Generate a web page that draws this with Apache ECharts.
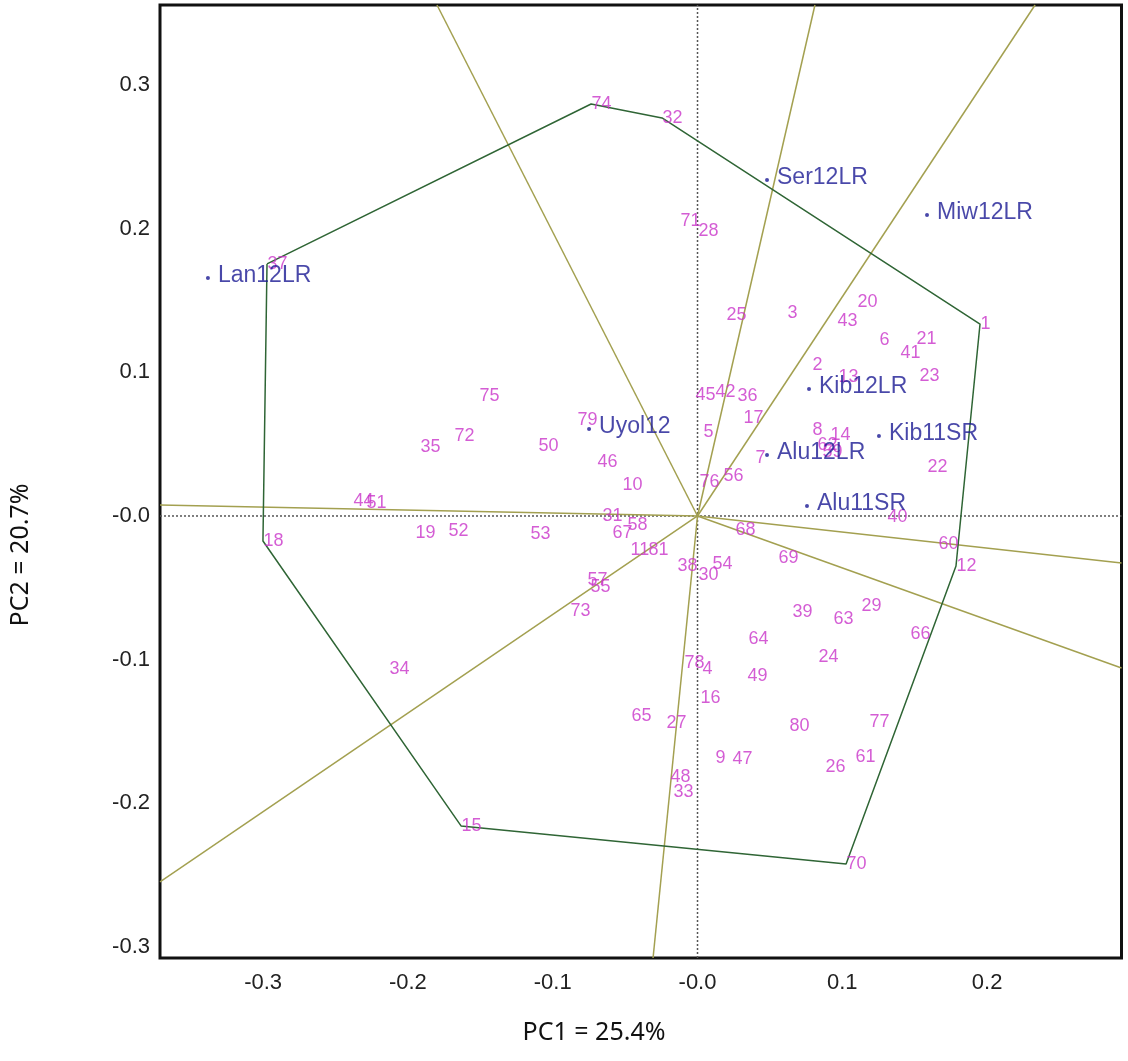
<!DOCTYPE html>
<html>
<head>
<meta charset="utf-8">
<script src="https://cdn.jsdelivr.net/npm/echarts@6/dist/echarts.min.js"></script>
<style>
html,body{margin:0;padding:0;background:#fff;}
#chart{width:1128px;height:1061px;}
</style>
</head>
<body>
<div id="chart"></div>
<script>
// Genotype labels (PC1, PC2)
const genoIds = ['1','2','3','4','5','6','7','8','9','10','11','12','13','14','15','16','17','18','19','20',
  '21','22','23','24','25','26','27','28','29','30','31','32','33','34','35','36','37','38','39','40',
  '41','42','43','44','45','46','47','48','49','50','51','52','53','54','55','56','57','58','59','60',
  '61','62','63','64','65','66','67','68','69','70','71','72','73','74','75','76','77','78','79','80','81'];
const genoPC1 = [0.1951,0.0791,0.0618,0.0031,0.0038,0.1253,0.0397,0.0791,0.0121,-0.0521,
  -0.0466,0.1785,0.0970,0.0915,-0.1633,0.0017,0.0314,-0.3001,-0.1951,0.1102,
  0.1509,0.1585,0.1530,0.0832,0.0197,0.0881,-0.0218,0.0003,0.1129,0.0003,
  -0.0660,-0.0245,-0.0169,-0.2131,-0.1916,0.0273,-0.2973,-0.0142,0.0653,0.1309,
  0.1398,0.0121,0.0963,-0.2379,-0.0017,-0.0694,0.0238,-0.0190,0.0342,-0.1102,
  -0.2289,-0.1723,-0.1157,0.0100,-0.0742,0.0176,-0.0763,-0.0487,0.0860,0.1661,
  0.1088,0.0825,0.0936,0.0349,-0.0459,0.1468,-0.0590,0.0259,0.0556,0.1026,
  -0.0121,-0.1682,-0.0881,-0.0735,-0.1509,0.0010,0.1184,-0.0093,-0.0832,0.0632,-0.0342];
const genoPC2 = [0.1336,0.1051,0.1413,-0.1065,0.0585,0.1225,0.0404,0.0598,-0.1684,0.0216,
  -0.0237,-0.0348,0.0967,0.0564,-0.2157,-0.1267,0.0682,-0.0174,-0.0118,0.1489,
  0.1232,0.0341,0.0974,-0.0981,0.1399,-0.1747,-0.1441,0.1983,-0.0626,-0.0411,
  0.0000,0.2770,-0.1921,-0.1065,0.0480,0.0835,0.1754,-0.0348,-0.0668,-0.0007,
  0.1134,0.0863,0.1357,0.0104,0.0842,0.0376,-0.1691,-0.1816,-0.1113,0.0487,
  0.0090,-0.0104,-0.0125,-0.0334,-0.0494,0.0278,-0.0445,-0.0063,0.0445,-0.0195,
  -0.1677,0.0494,-0.0717,-0.0856,-0.1392,-0.0821,-0.0118,-0.0097,-0.0292,-0.2422,
  0.2053,0.0557,-0.0661,0.2867,0.0835,0.0237,-0.1434,-0.1023,0.0668,-0.1461,-0.0237];

// Environments
const envNames = ['Lan12LR','Ser12LR','Miw12LR','Kib12LR','Kib11SR','Alu12LR','Alu11SR','Uyol12'];
const envPC1 = [-0.3381,0.0480,0.1585,0.0770,0.1253,0.0480,0.0756,-0.0749];
const envPC2 = [0.1656,0.2338,0.2095,0.0884,0.0557,0.0424,0.0070,0.0605];

// Polygon vertices (genotype ids, in order)
const hullIds = ['37','74','32','1','12','70','15','18'];

// Rays from origin: end points at the frame
const rayEndPC1 = [-0.1799,0.0811,0.2331,0.2928,0.2928,-0.0307,-0.3712,-0.3712];
const rayEndPC2 = [0.3556,0.3556,0.3556,-0.0327,-0.1058,-0.3076,-0.2547,0.0077];

const xTicks = [-0.3,-0.2,-0.1,0.0,0.1,0.2];
const yTicks = [-0.3,-0.2,-0.1,0.0,0.1,0.2,0.3];
const xRange = [-0.3712, 0.2928];
const yRange = [-0.3076, 0.3556];
const xTitle = 'PC1 = 25.4%';
const yTitle = 'PC2 = 20.7%';

const chart = echarts.init(document.getElementById('chart'), null, {renderer:'canvas'});

const fmt = v => (Math.abs(v) < 1e-9 ? '-0.0' : v.toFixed(1));
const FONT = "'Liberation Sans', Arial, sans-serif";
const MAG = '#c935c9';
const BLUE = '#1c1a94';
const RAY = '#a3a050';
const POLY = '#2f6535';

const series = [];
// axes through origin (dotted)
series.push({type:'line', data:[[0,yRange[0]],[0,yRange[1]]], symbol:'none', silent:true,
  lineStyle:{color:'#555', width:1.5, type:[2,2]}, z:1});
series.push({type:'line', data:[[xRange[0],0],[xRange[1],0]], symbol:'none', silent:true,
  lineStyle:{color:'#555', width:1.5, type:[2,2]}, z:1});
// rays
rayEndPC1.forEach((x,i)=>{
  series.push({type:'line', data:[[0,0],[x,rayEndPC2[i]]], symbol:'none', silent:true,
    lineStyle:{color:RAY, width:1.5}, z:2});
});
// polygon
const hullData = hullIds.concat([hullIds[0]]).map(id=>{
  const k = genoIds.indexOf(id);
  return [genoPC1[k], genoPC2[k]];
});
series.push({type:'line', data:hullData, symbol:'none', silent:true,
  lineStyle:{color:POLY, width:1.5}, z:3});
// genotypes
series.push({type:'scatter', symbolSize:1, itemStyle:{color:'rgba(0,0,0,0)'},
  data: genoIds.map((id,i)=>({value:[genoPC1[i],genoPC2[i]], name:id})),
  label:{show:true, position:'right', distance:0, formatter:p=>p.name,
    color:MAG, fontSize:18, fontFamily:FONT},
  labelLayout:{hideOverlap:false}, z:5});
// environments
series.push({type:'scatter', symbol:'circle', symbolSize:4, itemStyle:{color:BLUE},
  data: envNames.map((n,i)=>({value:[envPC1[i],envPC2[i]], name:n})),
  label:{show:true, position:'right', distance:8, offset:[0,-2], formatter:p=>p.name,
    color:BLUE, fontSize:23, fontFamily:FONT},
  z:6});

const option = {
  animation:false,
  backgroundColor:'#fff',
  grid:{left:160, right:6.5, top:5, bottom:103, show:true, borderColor:'#111', borderWidth:3, backgroundColor:'transparent'},
  xAxis:{type:'value', min:xRange[0], max:xRange[1],
    axisLine:{show:false}, axisTick:{show:false}, splitLine:{show:false},
    axisLabel:{customValues:xTicks, formatter:fmt, fontSize:22, color:'#222', margin:14, fontFamily:FONT}},
  yAxis:{type:'value', min:yRange[0], max:yRange[1],
    axisLine:{show:false}, axisTick:{show:false}, splitLine:{show:false},
    axisLabel:{customValues:yTicks, formatter:fmt, fontSize:22, color:'#222', margin:10, fontFamily:FONT}},
  graphic:[
    {type:'text', x:594, y:1033, style:{text:xTitle, fontSize:25, fill:'#111',
      fontFamily:"'Noto Sans', sans-serif", textAlign:'center', textVerticalAlign:'middle'}},
    {type:'text', x:21, y:555, rotation:Math.PI/2, style:{text:yTitle, fontSize:25, fill:'#111',
      fontFamily:"'Noto Sans', sans-serif", textAlign:'center', textVerticalAlign:'middle'}}
  ],
  series: series
};
chart.setOption(option);
</script>
</body>
</html>
